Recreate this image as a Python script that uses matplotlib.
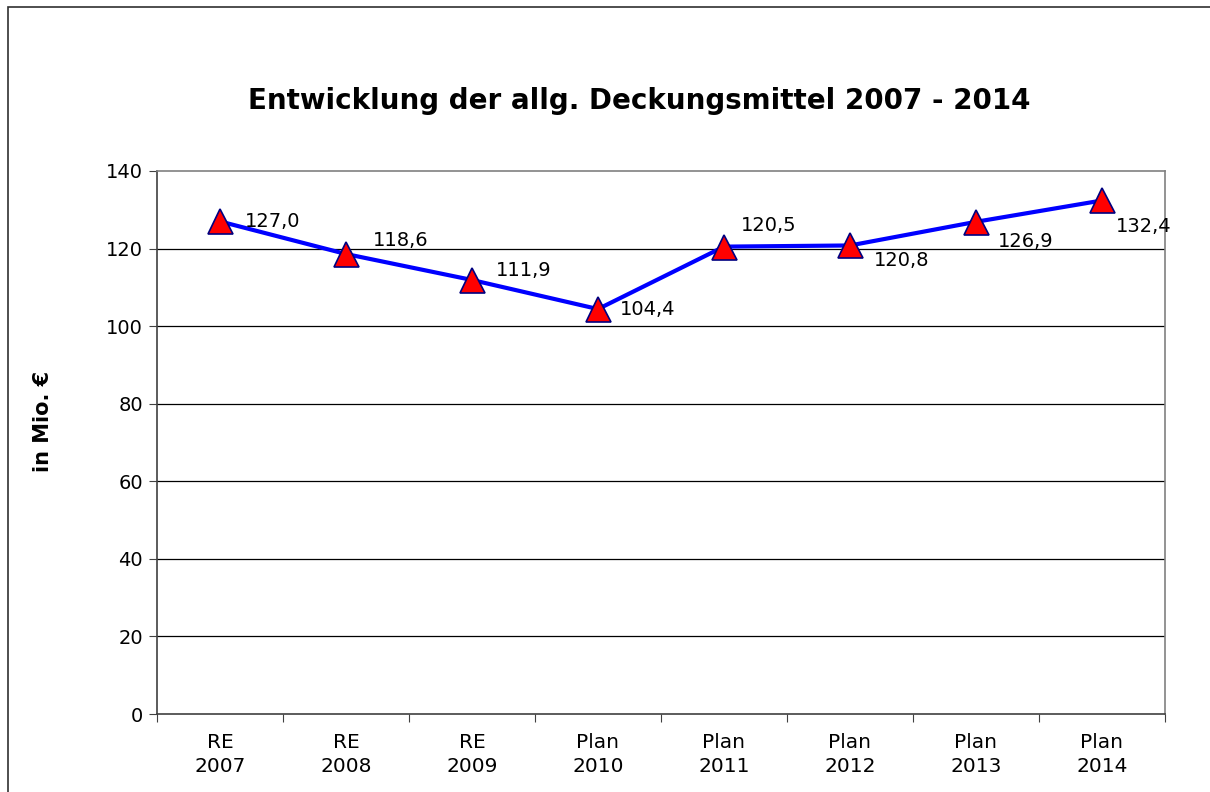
import matplotlib.pyplot as plt
from matplotlib.patches import Rectangle

# Werte in Mio. Euro
categories = ["RE\n2007", "RE\n2008", "RE\n2009", "Plan\n2010",
              "Plan\n2011", "Plan\n2012", "Plan\n2013", "Plan\n2014"]
values = [127.0, 118.6, 111.9, 104.4, 120.5, 120.8, 126.9, 132.4]
yticks = [0, 20, 40, 60, 80, 100, 120, 140]

# label offsets in points (dx, dy)
label_offsets = [(18, 0), (19, 10), (17, 7), (16, 0),
                 (12, 15), (17, -11), (16, -14), (10, -19)]

fig = plt.figure(figsize=(12.1, 7.92), dpi=100)
ax = fig.add_axes([157 / 1210, 1 - 714 / 792, 1008 / 1210, 543 / 792])

x = list(range(len(values)))
ax.plot(x, values, color="#0000ff", lw=3, zorder=3)
ax.plot(x, values, ls="none", marker="^", ms=18, mfc="#ff0000",
        mec="#000080", mew=1.2, zorder=4)

for i, v in enumerate(values):
    dx, dy = label_offsets[i]
    ax.annotate(f"{v:.1f}".replace(".", ","), (i, v), xytext=(dx, dy),
                textcoords="offset points", ha="left", va="center",
                fontsize=14, zorder=5)

ax.set_xlim(-0.5, len(values) - 0.5)
ax.set_ylim(0, 140)
ax.set_yticks(yticks)
ax.set_xticks([i + 0.5 for i in range(-1, len(values))], minor=False)
ax.set_xticklabels([])
ax.set_xticks(x, minor=True)
ax.set_xticklabels(categories, minor=True, fontsize=14.5, linespacing=1.3)
ax.tick_params(axis="x", which="minor", length=0, pad=14)
ax.tick_params(axis="x", which="major", length=6, color="#404040", direction="out")
ax.tick_params(axis="y", length=6, color="#404040", labelsize=14, pad=4)

for yv in yticks[1:-1]:
    ax.axhline(yv, color="black", lw=0.9, zorder=1)

ax.spines["top"].set_color("#808080")
ax.spines["right"].set_color("#808080")
ax.spines["left"].set_color("#404040")
ax.spines["bottom"].set_color("#404040")
for s in ax.spines.values():
    s.set_linewidth(1.2)

ax.set_ylabel("in Mio. €", fontsize=15, fontweight="bold")
ax.yaxis.set_label_coords((53 - 157) / 1008, (714 - 421) / 543)

fig.text(0.528, 1 - 101 / 792, "Entwicklung der allg. Deckungsmittel 2007 - 2014",
         ha="center", va="center", fontsize=20, fontweight="bold")

# outer chart frame (runs off the right and bottom edge)
frame = Rectangle((8 / 1210, -0.05), 1.1, 1 - 7 / 792 + 0.05,
                  transform=fig.transFigure, fill=False, ec="#303030", lw=1.2,
                  clip_on=False)
fig.patches.append(frame)

fig.savefig("out.png", dpi=100)
